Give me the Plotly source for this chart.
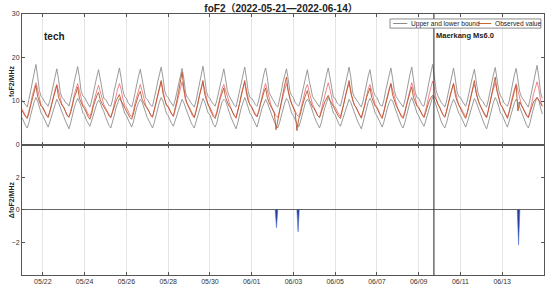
import pandas as pd
import plotly.graph_objects as go
from plotly.subplots import make_subplots

# foF2 值（每天 12 个点，2 小时间隔，从 2022-05-21 00:00 开始）
upper_bound = [
    [10.2, 9.6, 9.0, 8.6, 10.4, 12.4, 14.6, 16.2, 18.4, 15.6, 12.4, 11.0],
    [10.6, 9.8, 9.2, 8.8, 10.0, 12.0, 14.0, 15.8, 17.4, 15.0, 12.0, 10.8],
    [10.4, 9.6, 9.4, 8.8, 10.2, 12.2, 14.4, 16.0, 17.9, 15.4, 12.2, 11.2],
    [10.8, 10.0, 9.2, 8.6, 10.0, 12.0, 14.2, 15.6, 17.2, 14.8, 12.0, 10.6],
    [10.4, 9.8, 9.0, 8.8, 10.2, 12.4, 14.2, 16.0, 17.6, 15.2, 12.4, 11.0],
    [10.6, 9.6, 9.2, 8.6, 10.0, 12.2, 14.0, 15.8, 17.3, 15.0, 12.2, 10.8],
    [10.4, 9.8, 9.0, 8.8, 10.4, 12.4, 14.4, 16.2, 17.8, 15.4, 12.4, 11.2],
    [10.8, 10.0, 9.4, 8.8, 10.2, 12.2, 14.2, 16.0, 17.5, 15.2, 12.0, 10.8],
    [10.4, 9.6, 9.0, 8.6, 10.0, 12.0, 14.4, 16.2, 18.0, 15.4, 12.2, 11.0],
    [10.6, 9.8, 9.2, 8.8, 10.2, 12.2, 14.0, 15.8, 17.4, 15.0, 12.4, 11.2],
    [10.4, 9.6, 9.0, 8.6, 10.4, 12.4, 14.4, 16.0, 17.8, 15.2, 12.2, 10.8],
    [10.6, 10.0, 9.2, 8.8, 10.0, 12.0, 14.2, 16.2, 17.6, 15.4, 12.0, 11.0],
    [10.4, 9.8, 9.0, 8.6, 10.2, 12.2, 14.4, 16.0, 17.4, 15.0, 12.2, 11.2],
    [10.8, 9.6, 9.2, 8.8, 10.0, 12.0, 14.0, 15.8, 17.2, 14.8, 12.4, 11.0],
    [10.4, 9.8, 9.0, 8.6, 10.2, 12.4, 14.2, 16.0, 17.6, 15.2, 12.2, 10.8],
    [10.6, 9.6, 9.2, 8.8, 10.4, 12.2, 14.4, 16.2, 17.8, 15.4, 12.0, 11.0],
    [10.4, 10.0, 9.4, 8.6, 10.0, 12.0, 14.2, 15.8, 17.2, 15.0, 12.2, 11.2],
    [10.8, 9.8, 9.0, 8.8, 10.2, 12.4, 14.4, 16.0, 17.6, 15.2, 12.4, 11.0],
    [10.4, 9.6, 9.2, 8.6, 10.0, 12.2, 14.2, 16.2, 17.8, 15.4, 12.0, 10.8],
    [10.6, 9.8, 9.0, 8.8, 10.4, 12.4, 14.6, 16.4, 18.4, 15.6, 12.4, 11.2],
    [10.4, 9.6, 9.2, 8.6, 10.0, 12.0, 14.2, 16.0, 17.6, 15.2, 12.2, 11.0],
    [10.8, 10.0, 9.4, 8.8, 10.2, 12.2, 14.0, 15.8, 17.3, 15.0, 12.0, 10.8],
    [10.4, 9.8, 9.0, 8.6, 10.2, 12.4, 14.4, 16.2, 17.7, 15.4, 12.4, 11.2],
    [10.6, 9.6, 9.2, 8.8, 10.0, 12.2, 14.2, 16.0, 17.5, 15.2, 12.2, 11.0],
    [10.4, 9.8, 9.0, 8.6, 10.4, 12.4, 14.6, 16.4, 18.2, 15.6, 12.0, 10.6],
]

lower_bound = [
    [6.2, 5.2, 4.4, 3.8, 5.0, 6.8, 8.6, 9.8, 10.8, 10.0, 8.6, 7.2],
    [6.6, 5.6, 4.6, 4.0, 5.2, 6.6, 8.2, 9.4, 10.4, 9.6, 8.4, 7.4],
    [6.4, 5.4, 4.4, 3.6, 5.0, 6.8, 8.4, 9.6, 10.6, 9.8, 8.8, 7.2],
    [6.8, 5.6, 4.8, 4.2, 5.4, 6.8, 8.2, 9.4, 10.2, 9.6, 8.4, 7.6],
    [6.4, 5.2, 4.4, 3.8, 5.0, 6.6, 8.4, 9.8, 10.6, 10.0, 8.6, 7.2],
    [6.6, 5.6, 4.6, 4.0, 5.2, 7.0, 8.6, 9.6, 10.4, 9.8, 8.8, 7.4],
    [6.2, 5.4, 4.4, 3.8, 5.0, 6.8, 8.4, 9.8, 10.8, 10.0, 8.6, 7.2],
    [6.6, 5.6, 4.8, 4.2, 5.4, 6.8, 8.2, 9.4, 10.4, 9.6, 8.4, 7.6],
    [6.4, 5.2, 4.4, 3.8, 5.2, 6.6, 8.4, 9.6, 10.6, 9.8, 8.6, 7.2],
    [6.8, 5.6, 4.6, 4.0, 5.0, 6.8, 8.6, 9.8, 10.4, 10.0, 8.8, 7.4],
    [6.4, 5.4, 4.4, 3.6, 5.0, 6.8, 8.4, 9.6, 10.8, 9.8, 8.6, 7.2],
    [6.6, 5.6, 4.8, 4.0, 5.4, 7.0, 8.4, 9.4, 10.4, 9.6, 8.4, 7.6],
    [6.2, 5.2, 4.4, 3.8, 5.0, 6.6, 8.2, 9.6, 10.6, 10.0, 8.6, 7.2],
    [6.6, 5.6, 4.6, 4.0, 5.2, 6.8, 8.6, 9.8, 10.4, 9.8, 8.8, 7.4],
    [6.4, 5.4, 4.4, 3.8, 5.0, 6.8, 8.4, 9.6, 10.8, 10.0, 8.6, 7.2],
    [6.8, 5.6, 4.8, 4.2, 5.4, 6.6, 8.2, 9.4, 10.4, 9.6, 8.4, 7.6],
    [6.4, 5.2, 4.4, 3.6, 5.0, 6.8, 8.6, 9.8, 10.6, 9.8, 8.6, 7.2],
    [6.6, 5.6, 4.6, 4.0, 5.2, 7.0, 8.4, 9.6, 10.4, 10.0, 8.8, 7.4],
    [6.2, 5.4, 4.4, 3.8, 5.0, 6.6, 8.4, 9.8, 10.8, 9.8, 8.6, 7.2],
    [6.6, 5.6, 4.8, 4.2, 5.4, 6.8, 8.6, 9.8, 11.0, 10.2, 8.8, 7.6],
    [6.4, 5.2, 4.4, 3.8, 5.0, 6.8, 8.2, 9.4, 10.4, 9.6, 8.4, 7.2],
    [6.6, 5.6, 4.6, 4.0, 5.2, 6.6, 8.4, 9.6, 10.6, 9.8, 8.6, 7.4],
    [6.4, 5.4, 4.4, 3.6, 5.0, 6.8, 8.6, 9.8, 10.8, 10.0, 8.8, 7.2],
    [6.8, 5.6, 4.8, 4.0, 5.4, 7.0, 8.4, 9.6, 10.4, 9.8, 8.6, 7.6],
    [6.4, 5.2, 4.4, 3.8, 5.0, 6.8, 8.6, 9.8, 10.8, 10.2, 8.4, 7.0],
]

median_value = [
    [8.2, 7.4, 6.6, 6.2, 7.6, 9.4, 11.4, 12.8, 14.2, 12.6, 10.4, 9.0],
    [8.6, 7.6, 6.8, 6.4, 7.4, 9.2, 11.0, 12.6, 13.8, 12.2, 10.2, 9.2],
    [8.4, 7.4, 6.8, 6.2, 7.6, 9.4, 11.4, 12.8, 14.0, 12.4, 10.4, 9.0],
    [8.8, 7.8, 7.0, 6.4, 7.6, 9.4, 11.2, 12.4, 13.6, 12.2, 10.2, 9.2],
    [8.4, 7.6, 6.8, 6.2, 7.6, 9.6, 11.2, 12.8, 14.0, 12.6, 10.4, 9.0],
    [8.6, 7.6, 6.8, 6.4, 7.6, 9.6, 11.2, 12.6, 13.8, 12.4, 10.4, 9.2],
    [8.2, 7.6, 6.6, 6.2, 7.8, 9.6, 11.4, 13.0, 14.4, 12.6, 10.4, 9.2],
    [8.6, 7.8, 7.0, 6.4, 7.8, 9.4, 11.2, 12.8, 14.4, 12.4, 10.2, 9.2],
    [8.4, 7.4, 6.6, 6.2, 7.6, 9.2, 11.4, 12.8, 14.2, 12.6, 10.4, 9.0],
    [8.6, 7.6, 6.8, 6.4, 7.6, 9.4, 11.2, 12.8, 13.8, 12.4, 10.6, 9.2],
    [8.4, 7.4, 6.6, 6.0, 7.6, 9.6, 11.4, 12.8, 14.2, 12.4, 10.4, 9.0],
    [8.6, 7.8, 7.0, 6.4, 7.6, 9.4, 11.2, 12.8, 14.0, 12.4, 10.2, 9.2],
    [8.2, 7.4, 6.6, 6.2, 7.6, 9.4, 11.2, 12.8, 14.0, 12.4, 10.4, 9.2],
    [8.6, 7.6, 6.8, 6.4, 7.6, 9.4, 11.2, 12.8, 13.8, 12.2, 10.6, 9.2],
    [8.4, 7.6, 6.6, 6.2, 7.6, 9.6, 11.2, 12.8, 14.2, 12.6, 10.4, 9.0],
    [8.6, 7.6, 7.0, 6.4, 7.8, 9.4, 11.2, 12.8, 14.0, 12.4, 10.2, 9.2],
    [8.4, 7.6, 6.8, 6.0, 7.4, 9.4, 11.4, 12.8, 13.8, 12.4, 10.4, 9.2],
    [8.6, 7.6, 6.8, 6.4, 7.6, 9.6, 11.4, 12.8, 14.0, 12.6, 10.6, 9.2],
    [8.2, 7.4, 6.8, 6.2, 7.6, 9.4, 11.2, 13.0, 14.2, 12.6, 10.4, 9.0],
    [8.6, 7.6, 6.8, 6.4, 7.8, 9.6, 11.6, 13.0, 14.6, 12.8, 10.6, 9.4],
    [8.4, 7.4, 6.8, 6.2, 7.6, 9.4, 11.2, 12.8, 14.0, 12.4, 10.4, 9.0],
    [8.6, 7.8, 7.0, 6.4, 7.6, 9.4, 11.2, 12.6, 13.8, 12.4, 10.2, 9.2],
    [8.4, 7.6, 6.6, 6.2, 7.6, 9.6, 11.4, 13.0, 14.2, 12.6, 10.6, 9.2],
    [8.6, 7.6, 7.0, 6.4, 7.6, 9.6, 11.4, 12.8, 14.0, 12.4, 10.4, 9.2],
    [8.4, 7.4, 6.8, 6.2, 7.6, 9.6, 11.6, 13.0, 14.4, 12.8, 10.2, 8.8],
]

observed_value = [
    [7.8, 7.0, 6.4, 6.0, 7.2, 9.0, 10.6, 12.2, 13.6, 11.0, 9.8, 8.8],
    [8.4, 7.4, 6.8, 6.2, 7.6, 9.4, 11.0, 12.0, 13.6, 10.8, 10.0, 9.0],
    [8.6, 7.6, 6.6, 6.4, 7.4, 9.0, 10.8, 11.8, 13.2, 10.6, 9.6, 8.8],
    [8.2, 7.2, 6.4, 5.8, 7.0, 8.8, 10.2, 11.2, 12.0, 10.2, 9.4, 8.6],
    [8.0, 7.4, 6.6, 6.2, 7.2, 8.6, 10.0, 10.8, 11.5, 10.0, 9.2, 8.4],
    [7.8, 7.0, 6.2, 5.8, 7.0, 8.8, 10.4, 11.4, 12.2, 10.4, 9.6, 8.8],
    [8.4, 7.6, 6.8, 6.4, 7.8, 9.6, 11.4, 13.2, 14.7, 11.8, 10.2, 9.0],
    [8.8, 7.8, 7.0, 6.6, 8.0, 10.0, 12.2, 14.6, 16.6, 13.0, 10.6, 9.4],
    [8.6, 7.6, 6.8, 6.2, 7.6, 9.6, 11.6, 13.0, 14.7, 11.6, 10.2, 9.0],
    [8.2, 7.2, 6.4, 6.0, 7.2, 9.0, 10.8, 11.8, 13.0, 10.8, 9.8, 8.8],
    [8.4, 7.4, 6.6, 6.2, 7.6, 9.4, 11.4, 13.2, 14.7, 11.8, 10.0, 9.2],
    [8.6, 7.6, 6.8, 6.4, 7.4, 9.2, 10.8, 12.0, 13.0, 10.8, 9.6, 8.8],
    [8.0, 7.2, 3.4, 5.6, 7.2, 9.6, 11.8, 13.8, 15.5, 12.2, 10.4, 9.2],
    [8.4, 7.4, 3.2, 5.8, 7.0, 8.8, 10.4, 11.4, 12.4, 10.4, 9.6, 8.6],
    [8.2, 7.4, 6.6, 6.2, 7.2, 8.6, 9.8, 10.6, 11.3, 10.2, 9.4, 8.6],
    [8.0, 7.2, 6.4, 6.0, 7.4, 9.4, 11.4, 13.2, 14.7, 11.8, 10.2, 9.0],
    [8.6, 7.6, 6.8, 6.2, 7.4, 9.0, 10.8, 12.0, 13.0, 10.8, 9.8, 8.8],
    [8.4, 7.4, 6.6, 6.0, 7.6, 9.4, 11.2, 12.6, 14.0, 11.4, 10.0, 9.0],
    [8.2, 7.2, 6.4, 6.0, 7.2, 9.0, 10.8, 12.0, 13.2, 10.8, 9.8, 8.8],
    [8.4, 7.6, 6.8, 6.2, 7.4, 8.8, 10.0, 10.8, 11.3, 11.0, 10.4, 9.2],
    [8.6, 7.6, 6.8, 6.4, 7.6, 9.4, 11.2, 12.6, 14.0, 11.4, 10.0, 9.0],
    [8.2, 7.4, 6.6, 6.0, 7.4, 9.4, 11.4, 13.2, 14.7, 11.8, 10.2, 9.2],
    [8.4, 7.6, 6.8, 6.2, 7.8, 9.8, 12.0, 14.0, 15.5, 12.2, 10.4, 9.2],
    [8.6, 7.6, 6.6, 6.0, 7.4, 9.2, 11.0, 12.2, 13.6, 7.7, 9.8, 8.8],
    [8.2, 7.4, 6.6, 6.2, 7.2, 8.6, 9.8, 10.4, 10.8, 10.2, 9.6, 8.8],
]

# ΔfoF2 异常（低于下界的部分）
anomaly_time = [
    "2022-06-02 03:00", "2022-06-02 04:30", "2022-06-02 06:00", None,
    "2022-06-03 04:00", "2022-06-03 05:20", "2022-06-03 06:40", None,
    "2022-06-13 17:15", "2022-06-13 18:45", "2022-06-13 20:15",
]
anomaly_value = [0, -1.1, 0, None, 0, -1.35, 0, None, 0, -2.15, 0]

quake_time = "2022-06-09 17:28"
tick_dates = ["2022-05-22", "2022-05-24", "2022-05-26", "2022-05-28", "2022-05-30",
              "2022-06-01", "2022-06-03", "2022-06-05", "2022-06-07", "2022-06-09",
              "2022-06-11", "2022-06-13"]
tick_labels = ["05/22", "05/24", "05/26", "05/28", "05/30", "06/01",
               "06/03", "06/05", "06/07", "06/09", "06/11", "06/13"]


def flat(rows):
    return [v for row in rows for v in row]


times = pd.date_range("2022-05-21", periods=len(upper_bound) * 12, freq="2h")

FONT = "Liberation Sans, Arial, Noto Sans CJK SC"
AXIS = "#555555"

fig = make_subplots(rows=2, cols=1, shared_xaxes=True, vertical_spacing=0)

fig.add_trace(go.Scatter(x=times, y=flat(upper_bound), mode="lines",
                         line=dict(color="#8f8f8f", width=0.9)), row=1, col=1)
fig.add_trace(go.Scatter(x=times, y=flat(lower_bound), mode="lines",
                         line=dict(color="#8f8f8f", width=0.9)), row=1, col=1)
fig.add_trace(go.Scatter(x=times, y=flat(median_value), mode="lines",
                         line=dict(color="#e8343c", width=0.8), opacity=0.75), row=1, col=1)
fig.add_trace(go.Scatter(x=times, y=flat(observed_value), mode="lines",
                         line=dict(color="#b5562a", width=0.9)), row=1, col=1)

fig.add_trace(go.Scatter(x=anomaly_time, y=anomaly_value, mode="lines",
                         fill="tozeroy", fillcolor="#24399a",
                         line=dict(color="#4a6fd0", width=0.6)), row=2, col=1)

axis_common = dict(showline=True, linecolor=AXIS, linewidth=1, mirror="ticks",
                   ticks="inside", ticklen=3, tickcolor=AXIS,
                   tickfont=dict(family=FONT, size=7, color="#333333"))

fig.update_xaxes(range=["2022-05-21", "2022-06-15"], tickvals=tick_dates,
                 ticktext=tick_labels, showgrid=True, gridcolor="#e4e4e4",
                 gridwidth=1, **axis_common)
fig.update_xaxes(showticklabels=False, row=1, col=1)

fig.update_yaxes(range=[0, 30], tickvals=[0, 10, 20, 30], showgrid=False,
                 zeroline=False, row=1, col=1, **axis_common)
fig.update_yaxes(range=[-4, 4], tickvals=[-2, 0, 2], showgrid=False,
                 zeroline=True, zerolinecolor="#666666", zerolinewidth=1.2,
                 row=2, col=1, **axis_common)

# 地震时间竖线
shapes = [dict(type="line", xref="x", yref="paper", x0=quake_time, x1=quake_time,
               y0=0, y1=1, line=dict(color="#222222", width=1))]

# 自定义图例
shapes += [
    dict(type="rect", xref="paper", yref="paper", x0=0.705, x1=0.994, y0=0.946, y1=0.981,
         line=dict(color="#8a8a8a", width=1), fillcolor="white", layer="above"),
    dict(type="line", xref="paper", yref="paper", x0=0.711, x1=0.738, y0=0.9635, y1=0.9635,
         line=dict(color="#8a8a8a", width=1)),
    dict(type="line", xref="paper", yref="paper", x0=0.874, x1=0.899, y0=0.9635, y1=0.9635,
         line=dict(color="#c8642a", width=1)),
]

annotations = [
    dict(text="<b>tech</b>", xref="paper", yref="paper", x=0.038, y=0.912,
         xanchor="left", yanchor="middle", showarrow=False,
         font=dict(family=FONT, size=10, color="#222222")),
    dict(text="<b>Maerkang Ms6.0</b>", xref="x", yref="paper", x=quake_time, y=0.916,
         xanchor="left", yanchor="middle", showarrow=False, xshift=0,
         font=dict(family=FONT, size=7.5, color="#222222")),
    dict(text="Upper and lower bound", xref="paper", yref="paper", x=0.741, y=0.9635,
         xanchor="left", yanchor="middle", showarrow=False,
         font=dict(family=FONT, size=6.6, color="#222222")),
    dict(text="Observed value", xref="paper", yref="paper", x=0.902, y=0.9635,
         xanchor="left", yanchor="middle", showarrow=False,
         font=dict(family=FONT, size=6.6, color="#222222")),
    dict(text="<b>foF2/MHz</b>", xref="paper", yref="paper", x=-0.021, y=0.743,
         xanchor="center", yanchor="middle", textangle=-90, showarrow=False,
         font=dict(family=FONT, size=7, color="#222222")),
    dict(text="<b>ΔfoF2/MHz</b>", xref="paper", yref="paper", x=-0.021, y=0.287,
         xanchor="center", yanchor="middle", textangle=-90, showarrow=False,
         font=dict(family=FONT, size=7, color="#222222")),
]

fig.update_layout(
    width=550, height=290,
    margin=dict(l=22, r=6, t=14, b=15),
    paper_bgcolor="white", plot_bgcolor="white",
    showlegend=False,
    title=dict(text="<b>foF2（2022-05-21—2022-06-14）</b>", x=0.511, y=0.972,
               xanchor="center", yanchor="middle",
               font=dict(family=FONT, size=10, color="#222222")),
    shapes=shapes,
    annotations=annotations,
)

# 去掉页面默认边距，让图从左上角开始；隐藏工具栏
fig.write_html("out.html", config={"displayModeBar": False},
               post_script="document.body.style.margin='0px';")
